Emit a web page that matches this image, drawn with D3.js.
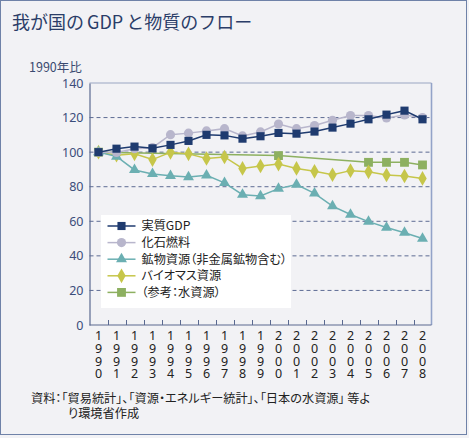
<!DOCTYPE html>
<html><head><meta charset="utf-8">
<script src="https://cdn.jsdelivr.net/npm/d3@7/dist/d3.min.js"></script>
<style>
html,body{margin:0;padding:0;background:#f2f2f5;}
svg{display:block;font-family:"Noto Sans CJK JP","Noto Sans",sans-serif;}
.palt{font-feature-settings:"palt" 1;}
</style></head>
<body><svg id="c" width="469" height="438"></svg>
<script>
const years = ["1990","1991","1992","1993","1994","1995","1996","1997","1998","1999","2000","2001","2002","2003","2004","2005","2006","2007","2008"];
const gdp     = [100,102,103.2,102.2,104.2,106.5,110,109.7,107.8,109.2,111.1,110.7,111.9,114.2,116.5,119,121.7,124,119];
const fossil  = [100,99.8,102,102.6,110.1,111,112.3,113.6,109.4,111.7,116.3,113.6,115.4,118.4,121.2,121.2,119.8,121.5,120];
const mineral = [100,97.5,89.7,87.4,86.3,85.6,86.6,82.2,75.4,74.6,78.9,81.2,76.2,68.8,63.9,59.8,56.4,53.4,50];
const biomass = [100,98.2,99,95.7,99.9,99,96.3,97.2,90.6,92,93.1,90.6,88.9,86.9,89.3,88.6,86.8,86.2,84.8];
const water   = [100,null,null,null,null,null,null,null,null,null,98,null,null,null,null,94.1,94.1,94.1,92.6];
const yTicks  = [0,20,40,60,80,100,120,140];
const seriesNames = ["実質GDP","化石燃料","鉱物資源（非金属鉱物含む）","バイオマス資源","（参考：水資源）"];

const svg = d3.select("#c");
// outer frame
svg.append("rect").attr("x",0.5).attr("y",0.5).attr("width",466).attr("height",434)
  .attr("fill","#f2f2f5").attr("stroke","#6f82a8").attr("stroke-width",1);

const title = svg.append("text").attr("x",12).attr("y",28.5).attr("font-size",18).attr("fill","#2b3d68");
title.append("tspan").text("我が国の");
title.append("tspan").attr("dx",3).text("GDP");
title.append("tspan").attr("dx",3).text("と物質のフロー");
svg.append("text").attr("x",29).attr("y",72).attr("font-size",12.5).attr("fill","#3a4a70")
  .text("1990年比");

const L=89.5, R=431.5, T=83, B=325;
const x = d3.scaleBand().domain(years).range([L,R]).padding(0);
const y = d3.scaleLinear().domain([0,140]).range([B,T]);
const cx = d => x(d)+x.bandwidth()/2;

// gridlines
svg.append("g").selectAll("line").data(yTicks.filter(t=>t>0 && t<140)).join("line")
  .attr("x1",L).attr("x2",R).attr("y1",d=>y(d)).attr("y2",d=>y(d))
  .attr("stroke","#5d6b93").attr("stroke-width",1).attr("stroke-dasharray","4,3");

// frame top/right
svg.append("line").attr("x1",L).attr("x2",R).attr("y1",T).attr("y2",T).attr("stroke","#9aa6c2").attr("stroke-width",1);
svg.append("line").attr("x1",R).attr("x2",R).attr("y1",T).attr("y2",B).attr("stroke","#93a3c8").attr("stroke-width",1.6);

// y axis
const yAxis = d3.axisLeft(y).tickValues(yTicks).tickSize(0).tickPadding(6);
const gy = svg.append("g").attr("transform",`translate(${L},0)`).call(yAxis);
gy.select(".domain").attr("stroke","#5a6990").attr("stroke-width",1.2);
gy.selectAll("text").attr("font-size",12.5).attr("fill","#3b4d7a").attr("font-family","'Noto Sans',sans-serif");

// x axis: ticks at band boundaries, inward
const gx = svg.append("g");
gx.append("line").attr("x1",L).attr("x2",R).attr("y1",B).attr("y2",B).attr("stroke","#5a6990").attr("stroke-width",1.2);
gx.selectAll("line.tk").data(years.slice(1)).join("line").attr("class","tk")
  .attr("x1",d=>Math.round(x(d))+0.5).attr("x2",d=>Math.round(x(d))+0.5).attr("y1",B).attr("y2",B-5)
  .attr("stroke","#5a6990").attr("stroke-width",1);
const xl = gx.selectAll("text").data(years).join("text")
  .attr("font-size",12.5).attr("fill","#222").attr("text-anchor","middle").attr("font-family","'Noto Sans',sans-serif");
xl.each(function(d){
  const t=d3.select(this);
  d.split("").forEach((ch,i)=>{
    t.append("tspan").attr("x",cx(d)).attr("y",B+15+i*12.8).text(ch);
  });
});

// series
const defs = [
  {name:seriesNames[4], data:water,   color:"#8db060", sym:d3.symbolSquare, size:78},
  {name:seriesNames[3], data:biomass, color:"#c6c64a", sym:d3.symbolDiamond, size:62},
  {name:seriesNames[2], data:mineral, color:"#6bafb2", sym:d3.symbolTriangle, size:52},
  {name:seriesNames[1], data:fossil,  color:"#b8b6cc", sym:d3.symbolCircle, size:66},
  {name:seriesNames[0], data:gdp,     color:"#1f3b6f", sym:d3.symbolSquare, size:66},
];
defs.forEach(s=>{
  const pts = years.map((yr,i)=>({yr,v:s.data[i]})).filter(p=>p.v!=null);
  const line = d3.line().x(p=>cx(p.yr)).y(p=>y(p.v));
  svg.append("path").datum(pts).attr("d",line).attr("fill","none").attr("stroke",s.color).attr("stroke-width",1.5);
  svg.append("g").selectAll("path").data(pts).join("path")
    .attr("d",d3.symbol().type(s.sym).size(s.size))
    .attr("transform",p=>`translate(${cx(p.yr)},${y(p.v)})`)
    .attr("fill",s.color);
});

// legend
const lg = svg.append("g");
lg.append("rect").attr("x",101).attr("y",215).attr("width",190).attr("height",93).attr("fill","#ffffff");
const order = [4,3,2,1,0];
order.forEach((di,i)=>{
  const s = defs[di];
  const yy = 226 + i*16.6;
  lg.append("line").attr("x1",107.5).attr("x2",135.5).attr("y1",yy).attr("y2",yy).attr("stroke",s.color).attr("stroke-width",1.5);
  lg.append("path").attr("d",d3.symbol().type(s.sym).size(s.size)).attr("transform",`translate(121.5,${yy})`).attr("fill",s.color);
  lg.append("text").attr("class","palt").attr("x",141.5).attr("y",yy+4.3).attr("font-size",12.2).attr("fill","#222").text(s.name);
});

// footer
svg.append("text").attr("class","palt").attr("x",31).attr("y",403).attr("font-size",12.2).attr("fill","#222")
  .text("資料：「貿易統計」、「資源・エネルギー統計」、「日本の水資源」 等よ");
svg.append("text").attr("class","palt").attr("x",68).attr("y",418).attr("font-size",12.2).attr("fill","#222")
  .text("り環境省作成");
</script>
</body></html>
